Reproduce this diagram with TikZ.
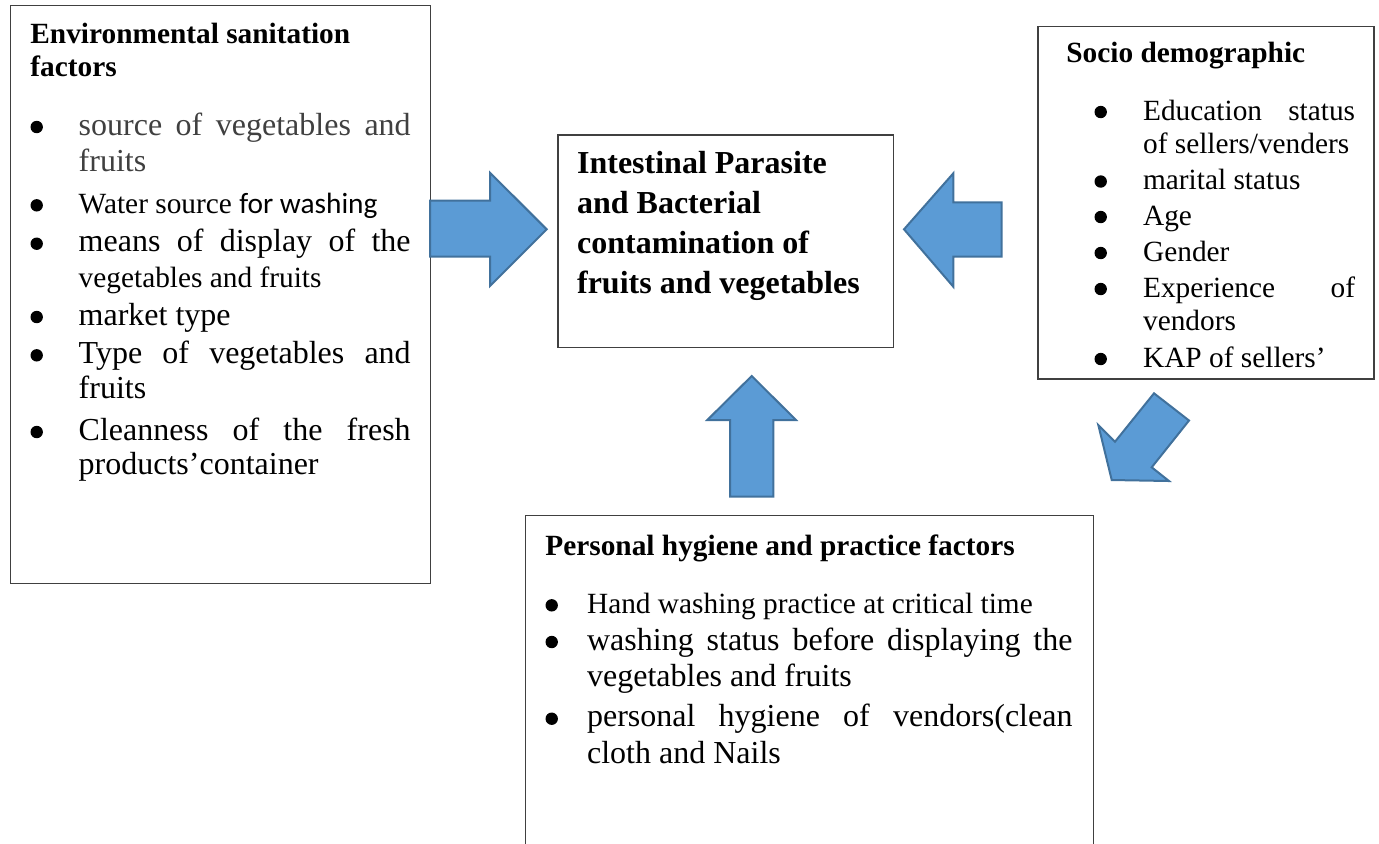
\documentclass[tikz,border=0pt]{standalone}
\usepackage{fontspec}
\setmainfont{Liberation Serif}
\newfontfamily\calibrifont{Carlito}
\definecolor{arrowfill}{HTML}{5B9BD5}
\definecolor{arrowline}{HTML}{41719C}
\newcommand{\bodysize}{\fontsize{16}{18}\selectfont}
\newcommand{\smallsize}{\fontsize{14.67}{16.6}\selectfont}
\tikzset{
  factor box/.style={draw=black!75, line width=0.7pt, anchor=north west, inner sep=0pt},
  head text/.style={anchor=base west, inner sep=0pt, align=left, font=\fontsize{14.67}{16.35}\selectfont\bfseries},
  title text/.style={anchor=base west, inner sep=0pt, align=left, font=\fontsize{16}{20}\selectfont\bfseries},
  item text/.style={anchor=base west, inner sep=0pt, align=justify, font=\bodysize},
  socio text/.style={item text, text width=106pt, font=\fontsize{14.67}{16.8}\selectfont},
  dotmark/.style={circle, fill=black, inner sep=0pt, minimum size=6.2pt},
  block arrow/.style={fill=arrowfill, draw=arrowline, line width=1pt, line join=miter}
}

\begin{document}
\begin{tikzpicture}[x=0.5pt, y=-0.5pt]
    \useasboundingbox (0,0) rectangle (1379,843);

    % boxes
    \node[factor box, minimum width=210pt, minimum height=289pt] (envbox) at (10,5) {};
    \node[factor box, minimum width=167.7pt, minimum height=106.2pt] (centrebox) at (557.3,134.3) {};
    \node[factor box, minimum width=168pt, minimum height=176.2pt] (sociobox) at (1037.3,26) {};
    \node[factor box, minimum width=284pt, minimum height=180pt] (hygbox) at (525,515) {};

    % environmental sanitation (base = last line)
    \node[head text] (envhead) at (30,76) {Environmental sanitation\\factors};
    \node[item text, text width=166pt, text=black!75, font=\fontsize{16}{18.3}\selectfont] (env1) at (78.3,135) {source of vegetables and\linebreak fruits};
    \node[item text, text width=166pt, font=\smallsize] (env2) at (78.3,213.3) {Water source {\calibrifont for washing}};
    \node[item text, text width=166pt] (env3) at (78.3,251.7) {means of display of the\linebreak\smallsize vegetables and fruits};
    \node[item text, text width=166pt] (env4) at (78.3,325) {market type};
    \node[item text, text width=166pt, font=\fontsize{16}{17.5}\selectfont] (env5) at (78.3,363.3) {Type of vegetables and\linebreak fruits};
    \node[item text, text width=166pt, font=\fontsize{16}{17}\selectfont] (env6) at (78.3,440) {Cleanness of the fresh\linebreak products’container};
    \foreach \y [count=\i] in {135,213.3,251.7,325,363.3,440}
        \node[dotmark] (envdot\i) at (36.7,\y-8) {};

    % outcome (base = last line)
    \node[title text] (centretitle) at (576.7,293.3) {Intestinal Parasite\\and Bacterial\\contamination of\\fruits and vegetables};

    % socio demographic
    \node[head text] (sociohead) at (1066,62.7) {Socio demographic};
    \node[socio text] (socio1) at (1142.7,120) {Education status\linebreak of sellers/venders};
    \node[socio text] (socio2) at (1142.7,189.5) {marital status};
    \node[socio text] (socio3) at (1142.7,225) {Age};
    \node[socio text] (socio4) at (1142.7,261) {Gender};
    \node[socio text] (socio5) at (1142.7,297) {Experience of\linebreak vendors};
    \node[socio text] (socio6) at (1142.7,367) {KAP of sellers’};
    \foreach \y [count=\i] in {120,189.5,225,261,297,367}
        \node[dotmark] (sociodot\i) at (1100.7,\y-8) {};

    % personal hygiene
    \node[head text] (hyghead) at (545,555) {Personal hygiene and practice factors};
    \node[item text, text width=242.7pt, font=\smallsize] (hyg1) at (586.7,613.3) {Hand washing practice at critical time};
    \node[item text, text width=242.7pt, font=\fontsize{16}{18.35}\selectfont] (hyg2) at (586.7,650) {washing status before displaying the\linebreak vegetables and fruits};
    \node[item text, text width=242.7pt, font=\fontsize{16}{18.35}\selectfont] (hyg3) at (586.7,726.7) {personal hygiene of vendors(clean\linebreak cloth and Nails};
    \foreach \y [count=\i] in {613.3,650,726.7}
        \node[dotmark] (hygdot\i) at (551.7,\y-8) {};

    % block arrows
    \draw[block arrow] (430,200.7) -- (490,200.7) -- (490,172.7) -- (546.7,229.3)
        -- (490,286) -- (490,256.7) -- (430,256.7) -- cycle;
    \draw[block arrow] (1001.7,202.3) -- (953.3,202.3) -- (953.3,173.3) -- (904,229.3)
        -- (953.3,286.7) -- (953.3,256.7) -- (1001.7,256.7) -- cycle;
    \draw[block arrow] (730,496.7) -- (730,420) -- (707.3,420) -- (751.7,376)
        -- (796,420) -- (773.3,420) -- (773.3,496.7) -- cycle;
    \draw[block arrow] (1111.7,480) -- (1169,481) -- (1151.7,467.3) -- (1189,420.5)
        -- (1154,393.3) -- (1115,441.7) -- (1098.3,425) -- cycle;
\end{tikzpicture}
\end{document}
